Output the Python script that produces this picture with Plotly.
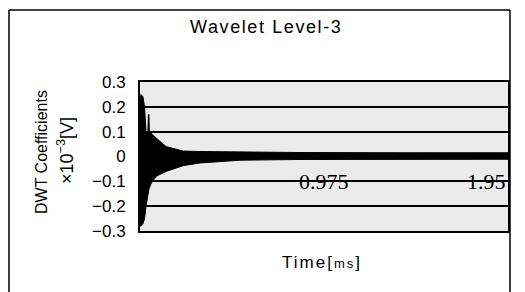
import plotly.graph_objects as go

# ---- data ----
env_t = [0, 0.005, 0.016, 0.024, 0.032, 0.048, 0.058, 0.085, 0.138, 0.228, 0.318, 0.53, 0.848, 1.378, 1.95]
env_upper = [0.22, 0.25, 0.24, 0.20, 0.10, 0.10, 0.095, 0.075, 0.04, 0.022, 0.02, 0.018, 0.016, 0.015, 0.015]
env_lower = [-0.28, -0.28, -0.27, -0.25, -0.20, -0.13, -0.11, -0.08, -0.06, -0.037, -0.026, -0.015, -0.012, -0.011, -0.011]
spike_t = [0.043, 0.046, 0.049]
spike_v = [0.09, 0.17, 0.09]

y_ticks = [-0.3, -0.2, -0.1, 0, 0.1, 0.2, 0.3]
y_ticktext = ["\u22120.3", "\u22120.2", "\u22120.1", "0", "0.1", "0.2", "0.3"]
x_ticks = [0.975, 1.95]
x_ticktext = ["0.975", "1.95"]

# page body has an 8px margin; work in window pixels and convert
OFF = 8
W, H = 525 - OFF, 292 - OFF
PL, PR, PT, PB = 140, 508, 82, 231          # plot area in window pixels
L, T = PL - OFF, PT - OFF
R, B = W - (PR - OFF), H - (PB - OFF)
PW, PH = PR - PL, PB - PT

def px(xp):
    return (xp - PL) / PW

def py(yp):
    return (PB - yp) / PH

fig = go.Figure()
fig.add_trace(go.Scatter(x=env_t, y=env_upper, mode="lines",
                         line=dict(color="black", width=1), hoverinfo="skip"))
fig.add_trace(go.Scatter(x=env_t, y=env_lower, mode="lines", fill="tonexty",
                         fillcolor="black", line=dict(color="black", width=1),
                         hoverinfo="skip"))
fig.add_trace(go.Scatter(x=spike_t, y=spike_v, mode="lines",
                         line=dict(color="black", width=1.5), hoverinfo="skip"))

annotations = [
    dict(text="<span style='letter-spacing:1.6px'>Wavelet Level-3</span>",
         x=px(266), y=py(27), xref="paper", yref="paper",
         showarrow=False, font=dict(size=18, family="Liberation Sans", color="black"),
         xanchor="center", yanchor="middle"),
    dict(text="DWT Coefficients", x=px(41), y=py(152), xref="paper", yref="paper",
         showarrow=False, textangle=-90,
         font=dict(size=16, family="Liberation Sans", color="black"),
         xanchor="center", yanchor="middle"),
    dict(text="\u00d710<sup>\u22123</sup>[V]", x=px(65), y=py(151), xref="paper", yref="paper",
         showarrow=False, textangle=-90,
         font=dict(size=18, family="Liberation Sans", color="black"),
         xanchor="center", yanchor="middle"),
    dict(text="<span style='letter-spacing:2px'>Time[<span style='font-size:13px'>ms</span>]</span>",
         x=px(322), y=py(262),
         xref="paper", yref="paper", showarrow=False,
         font=dict(size=17, family="Liberation Sans", color="black"),
         xanchor="center", yanchor="middle"),
]
for xv, tt in zip(x_ticks, x_ticktext):
    annotations.append(dict(text=tt, x=xv, y=-0.1, xref="x", yref="y",
                            showarrow=False,
                            xanchor="center" if xv < max(x_ticks) else "right",
                            yanchor="middle",
                            font=dict(size=22, family="Liberation Serif", color="black")))

frame = dict(color="black", width=1.5)
fig.update_layout(
    width=W, height=H,
    margin=dict(l=L, r=R, t=T, b=B),
    paper_bgcolor="white",
    plot_bgcolor="#ebebeb",
    showlegend=False,
    annotations=annotations,
    shapes=[
        dict(type="line", xref="paper", yref="paper",
             x0=px(9), x1=px(9), y0=py(320), y1=py(10), line=frame),
        dict(type="line", xref="paper", yref="paper",
             x0=px(510), x1=px(510), y0=py(320), y1=py(10), line=frame),
        dict(type="line", xref="paper", yref="paper",
             x0=px(9), x1=px(510), y0=py(10), y1=py(10), line=frame),
    ],
)
fig.update_xaxes(range=[0, 1.95], showticklabels=False, showgrid=False,
                 zeroline=False, showline=True, mirror=True,
                 linecolor="black", linewidth=2, ticks="")
fig.update_yaxes(range=[-0.3, 0.3], tickvals=y_ticks, ticktext=y_ticktext,
                 showgrid=True, gridcolor="black", gridwidth=1.5, zeroline=False,
                 showline=True, mirror=True, linecolor="black", linewidth=2,
                 ticks="", ticklabelstandoff=9,
                 tickfont=dict(size=17, family="Liberation Sans", color="black"))

fig.write_html("out.html")
